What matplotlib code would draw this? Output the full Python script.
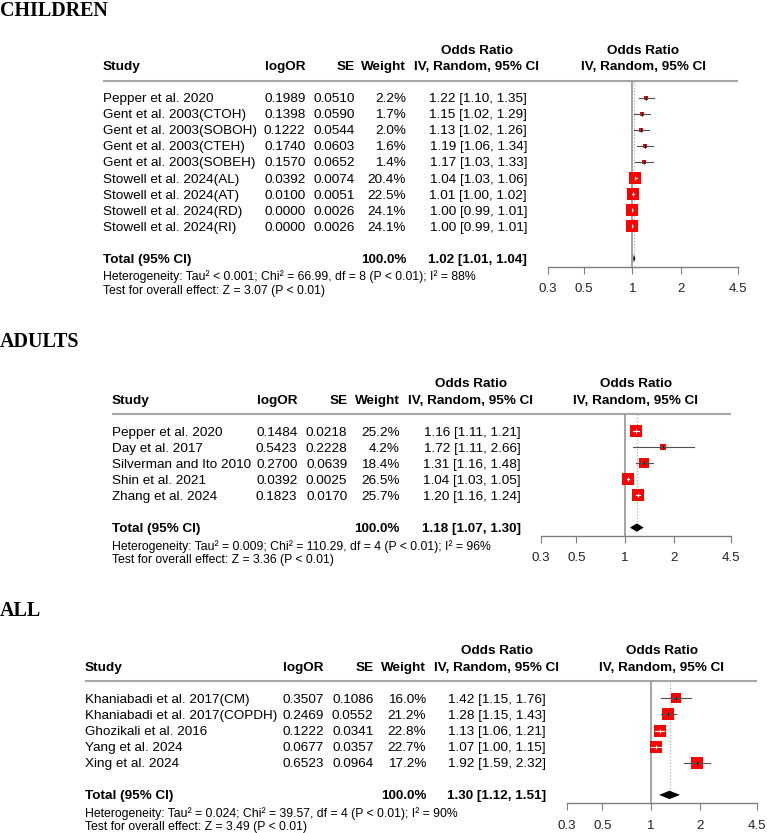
import numpy as np
import matplotlib
matplotlib.use("Agg")
import matplotlib.pyplot as plt

# ---------------- data ----------------
children_study = ["Pepper et al. 2020", "Gent et al. 2003(CTOH)", "Gent et al. 2003(SOBOH)",
                  "Gent et al. 2003(CTEH)", "Gent et al. 2003(SOBEH)", "Stowell et al. 2024(AL)",
                  "Stowell et al. 2024(AT)", "Stowell et al. 2024(RD)", "Stowell et al. 2024(RI)"]
children_logor = [0.1989, 0.1398, 0.1222, 0.1740, 0.1570, 0.0392, 0.0100, 0.0000, 0.0000]
children_se = [0.0510, 0.0590, 0.0544, 0.0603, 0.0652, 0.0074, 0.0051, 0.0026, 0.0026]
children_weight = [2.2, 1.7, 2.0, 1.6, 1.4, 20.4, 22.5, 24.1, 24.1]
children_or = [1.22, 1.15, 1.13, 1.19, 1.17, 1.04, 1.01, 1.00, 1.00]
children_lo = [1.10, 1.02, 1.02, 1.06, 1.03, 1.03, 1.00, 0.99, 0.99]
children_hi = [1.35, 1.29, 1.26, 1.34, 1.33, 1.06, 1.02, 1.01, 1.01]
children_pooled = [1.02, 1.01, 1.04]
children_total_weight = 100.0
children_het = ["< 0.001", "66.99", "8", "88"]
children_z = "3.07"

adults_study = ["Pepper et al. 2020", "Day et al. 2017", "Silverman and Ito 2010",
                "Shin et al. 2021", "Zhang et al. 2024"]
adults_logor = [0.1484, 0.5423, 0.2700, 0.0392, 0.1823]
adults_se = [0.0218, 0.2228, 0.0639, 0.0025, 0.0170]
adults_weight = [25.2, 4.2, 18.4, 26.5, 25.7]
adults_or = [1.16, 1.72, 1.31, 1.04, 1.20]
adults_lo = [1.11, 1.11, 1.16, 1.03, 1.16]
adults_hi = [1.21, 2.66, 1.48, 1.05, 1.24]
adults_pooled = [1.18, 1.07, 1.30]
adults_total_weight = 100.0
adults_het = ["= 0.009", "110.29", "4", "96"]
adults_z = "3.36"

all_study = ["Khaniabadi et al. 2017(CM)", "Khaniabadi et al. 2017(COPDH)", "Ghozikali et al. 2016",
             "Yang et al. 2024", "Xing et al. 2024"]
all_logor = [0.3507, 0.2469, 0.1222, 0.0677, 0.6523]
all_se = [0.1086, 0.0552, 0.0341, 0.0357, 0.0964]
all_weight = [16.0, 21.2, 22.8, 22.7, 17.2]
all_or = [1.42, 1.28, 1.13, 1.07, 1.92]
all_lo = [1.15, 1.15, 1.06, 1.00, 1.59]
all_hi = [1.76, 1.43, 1.21, 1.15, 2.32]
all_pooled = [1.30, 1.12, 1.51]
all_total_weight = 100.0
all_het = ["= 0.024", "39.57", "4", "90"]
all_z = "3.49"

titles = ["CHILDREN", "ADULTS", "ALL"]
tick_values = [0.3, 0.5, 1, 2, 4.5]
tick_labels = ["0.3", "0.5", "1", "2", "4.5"]

# ---------------- layout (pixels) ----------------
W, H = 767, 833
ROW = 16.1
layouts = [
    dict(title_y=10.7, first=97.5, study=102.7, logor=305.6, se=354.5, weight=406.0,
         orr=527.0, orc=476.6, axl=547.7, axr=738.4),
    dict(title_y=341.5, first=431.0, study=111.8, logor=297.5, se=347.5, weight=399.5,
         orr=520.6, orc=470.6, axl=540.5, axr=731.0),
    dict(title_y=611.0, first=698.3, study=84.7, logor=324.0, se=373.6, weight=426.0,
         orr=546.0, orc=497.0, axl=566.6, axr=756.7),
]
panels = [
    (children_study, children_logor, children_se, children_weight, children_or, children_lo,
     children_hi, children_pooled, children_total_weight, children_het, children_z),
    (adults_study, adults_logor, adults_se, adults_weight, adults_or, adults_lo,
     adults_hi, adults_pooled, adults_total_weight, adults_het, adults_z),
    (all_study, all_logor, all_se, all_weight, all_or, all_lo,
     all_hi, all_pooled, all_total_weight, all_het, all_z),
]

SANS = "Liberation Sans"
FS = 9.7
FS_SMALL = 8.8

fig = plt.figure(figsize=(W / 100, H / 100), dpi=100)
base = fig.add_axes([0, 0, 1, 1])
base.set_xlim(0, W)
base.set_ylim(H, 0)
base.axis("off")


def txt(x, y, s, ha="left", bold=False, size=FS):
    base.text(x, y, s, ha=ha, va="center_baseline", fontsize=size, family=SANS,
              fontweight="bold" if bold else "normal", color="black")


for title, lay, pan in zip(titles, layouts, panels):
    study, logor, se, weight, orv, lo, hi, pooled, totw, het, z = pan
    n = len(study)
    first = lay["first"]
    rule_y = first - 17
    total_y = first + (n + 1) * ROW
    axis_y = total_y + 8

    # title
    base.text(0, lay["title_y"], title, ha="left", va="center", fontsize=14.4,
              family="Liberation Serif", fontweight="bold")

    # headers
    txt(lay["orc"], rule_y - 31.5, "Odds Ratio", ha="center", bold=True)
    txt((lay["axl"] + lay["axr"]) / 2, rule_y - 31.5, "Odds Ratio", ha="center", bold=True)
    txt(lay["study"], rule_y - 15, "Study", bold=True)
    txt(lay["logor"], rule_y - 15, "logOR", ha="right", bold=True)
    txt(lay["se"], rule_y - 15, "SE", ha="right", bold=True)
    txt(lay["weight"], rule_y - 15, "Weight", ha="right", bold=True)
    txt(lay["orc"], rule_y - 15, "IV, Random, 95% CI", ha="center", bold=True)
    txt((lay["axl"] + lay["axr"]) / 2, rule_y - 15, "IV, Random, 95% CI", ha="center", bold=True)
    base.plot([lay["study"], lay["axr"]], [rule_y, rule_y], color="#a6a6a6", lw=1.5,
              solid_capstyle="butt")

    # rows
    for i in range(n):
        y = first + i * ROW
        txt(lay["study"], y, study[i])
        txt(lay["logor"], y, f"{logor[i]:.4f}", ha="right")
        txt(lay["se"], y, f"{se[i]:.4f}", ha="right")
        txt(lay["weight"], y, f"{weight[i]:.1f}%", ha="right")
        txt(lay["orr"], y, f"{orv[i]:.2f} [{lo[i]:.2f}, {hi[i]:.2f}]", ha="right")

    txt(lay["study"], total_y, "Total (95% CI)", bold=True)
    txt(lay["weight"], total_y, f"{totw:.1f}%", ha="right", bold=True)
    txt(lay["orr"], total_y, f"{pooled[0]:.2f} [{pooled[1]:.2f}, {pooled[2]:.2f}]",
        ha="right", bold=True)
    txt(lay["study"], total_y + 17,
        f"Heterogeneity: Tau\u00b2 {het[0]}; Chi\u00b2 = {het[1]}, df = {het[2]} (P < 0.01); "
        f"I\u00b2 = {het[3]}%", size=FS_SMALL)
    txt(lay["study"], total_y + 31, f"Test for overall effect: Z = {z} (P < 0.01)",
        size=FS_SMALL)

    # forest axes
    ax = fig.add_axes([lay["axl"] / W, 1 - axis_y / H, (lay["axr"] - lay["axl"]) / W,
                       (axis_y - rule_y) / H])
    ax.patch.set_alpha(0)
    ax.set_xscale("log")
    ax.set_xlim(tick_values[0], tick_values[-1])
    ax.set_ylim(n + 1 + 8 / ROW, -17 / ROW)
    for s in ["top", "left", "right"]:
        ax.spines[s].set_visible(False)
    ax.spines["bottom"].set_color("#7f7f7f")
    ax.spines["bottom"].set_linewidth(1.0)
    ax.set_yticks([])
    ax.set_xticks(tick_values)
    ax.set_xticklabels(tick_labels, family=SANS)
    ax.minorticks_off()
    ax.tick_params(axis="x", direction="out", length=5, width=0.8, color="#7f7f7f",
                   labelsize=9.6, pad=7, labelcolor="#222222")

    ax.axvline(1, color="#8c8c8c", lw=1.1, zorder=1)
    ax.plot([pooled[0], pooled[0]], [-17 / ROW, n + 1 - 0.27], color="#b0b0b0", lw=0.9,
            linestyle=(0, (1, 1.5)), zorder=1)

    ppl = (lay["axr"] - lay["axl"]) / np.log(tick_values[-1] / tick_values[0])
    wmax = max(weight)
    for i in range(n):
        side = 12.7 * np.sqrt(weight[i] / wmax)
        ax.plot([orv[i]], [i], marker="s", markersize=side * 0.72, color="#ff0000",
                markeredgewidth=0, zorder=3)
        ci_px = np.log(hi[i] / lo[i]) * ppl
        inside = ci_px < side
        lc = "white" if inside else "#505050"
        ax.plot([lo[i], hi[i]], [i, i], color=lc, lw=0.8, zorder=4)
        ax.plot([orv[i]], [i], marker="|", markersize=3.2, markeredgewidth=0.8,
                color="white" if inside else "black", zorder=5)

    # diamond
    yt = n + 1
    ax.fill([pooled[1], pooled[0], pooled[2], pooled[0]],
            [yt, yt - 0.26, yt, yt + 0.26], color="black", zorder=5, lw=0)

fig.savefig("out.png", dpi=100)
